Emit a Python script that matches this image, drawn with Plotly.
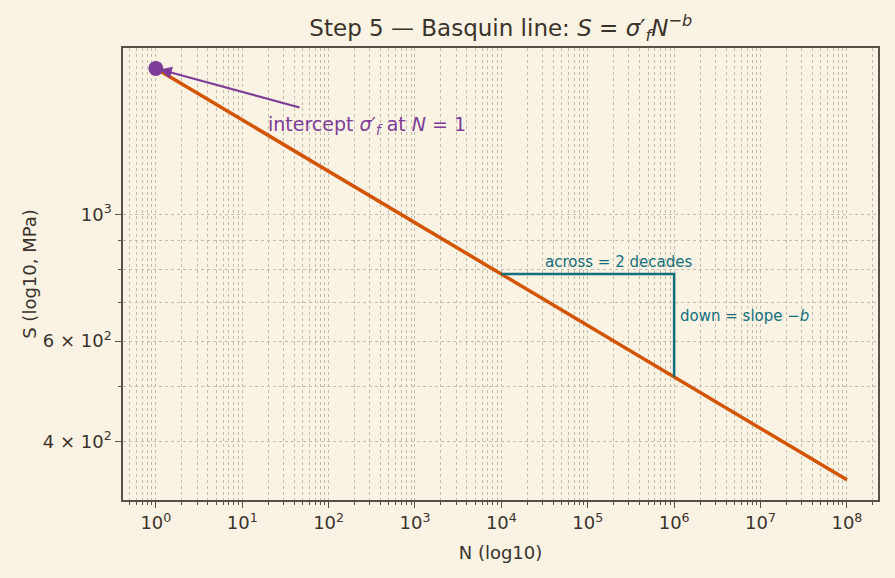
import math
import plotly.graph_objects as go

# ---- data ----
line_N = [1, 1e8]
line_S = [1800, 343]
intercept_N = [1]
intercept_S = [1800]
tri_N = [1e4, 1e6, 1e6]
tri_S = [786, 786, 519]

x_tick_vals = [10**k for k in range(0, 9)]
x_tick_text = [f"10<sup>{k}</sup>" for k in range(0, 9)]
y_tick_vals = [400, 600, 1000]
y_tick_text = ["4 × 10<sup>2</sup>", "6 × 10<sup>2</sup>", "10<sup>3</sup>"]
y_minor_vals = [300, 500, 700, 800, 900, 2000]
x_minor_vals = [m * 10**k for k in range(-1, 9) for m in range(2, 10)]

BG = "#FAF2E3"
TXT = "#3a332b"
AX = "#5a5046"
GRID = "#c4bcad"
ORANGE = "#D35400"
PURPLE = "#7D3C98"
TEAL = "#136F7B"
FONT = "DejaVu Sans"

fig = go.Figure()
fig.add_trace(go.Scatter(x=line_N, y=line_S, mode="lines",
                         line=dict(color=ORANGE, width=3.5), showlegend=False))
fig.add_trace(go.Scatter(x=tri_N, y=tri_S, mode="lines",
                         line=dict(color=TEAL, width=2.5), showlegend=False))
fig.add_trace(go.Scatter(x=intercept_N, y=intercept_S, mode="markers",
                         marker=dict(color=PURPLE, size=15), showlegend=False))

# arrow (tail near the label) and label
fig.add_annotation(x=math.log10(intercept_N[0]), y=math.log10(intercept_S[0]),
                   ax=math.log10(48), ay=math.log10(1535), axref="x", ayref="y",
                   xref="x", yref="y", text="",
                   showarrow=True, arrowhead=2, arrowsize=1.1, arrowwidth=2.2,
                   arrowcolor=PURPLE, standoff=4)
fig.add_annotation(x=math.log10(19), y=math.log10(1432), xref="x", yref="y",
                   text="intercept <i>σ</i>′<sub><i>f</i></sub> at <i>N</i> = 1",
                   font=dict(family=FONT, size=19, color=PURPLE),
                   showarrow=False, xanchor="left", yanchor="middle")
fig.add_annotation(x=math.log10(3e4), y=math.log10(826), xref="x", yref="y",
                   text="across = 2 decades", showarrow=False, xanchor="left",
                   yanchor="middle", font=dict(family=FONT, size=15, color=TEAL))
fig.add_annotation(x=math.log10(1.12e6), y=math.log10(663), xref="x", yref="y",
                   text="down = slope −<i>b</i>", showarrow=False, xanchor="left",
                   yanchor="middle", font=dict(family=FONT, size=15, color=TEAL))

fig.update_layout(
    width=895, height=578,
    margin=dict(l=123, r=17, t=48, b=78),
    paper_bgcolor=BG, plot_bgcolor=BG,
    font=dict(family=FONT, color=TXT),
    title=dict(text="Step 5 — Basquin line: <i>S</i> = <i>σ</i>′<sub><i>f</i></sub><i>N</i><sup>−<i>b</i></sup>",
               x=0.5595, xanchor="center", y=0.952, yanchor="middle",
               font=dict(family=FONT, size=23, color=TXT)),
)
fig.update_xaxes(
    type="log", range=[-0.38, 8.36],
    tickmode="array", tickvals=x_tick_vals, ticktext=x_tick_text,
    ticks="outside", ticklen=6, tickwidth=1.3, tickcolor=AX,
    tickfont=dict(family=FONT, size=18, color=TXT),
    showgrid=True, gridcolor=GRID, gridwidth=0.8, griddash="dot",
    showline=True, linecolor=AX, linewidth=1.5, mirror=True, zeroline=False,
    minor=dict(tickmode="array", tickvals=x_minor_vals, ticks="outside", ticklen=3.5,
               tickwidth=1, tickcolor=AX, showgrid=True, gridcolor=GRID,
               gridwidth=0.6, griddash="dot"),
    title=dict(text="N (log10)", font=dict(family=FONT, size=18, color=TXT), standoff=14),
)
fig.update_yaxes(
    type="log", range=[2.50, 3.291],
    tickmode="array", tickvals=y_tick_vals, ticktext=y_tick_text,
    ticks="outside", ticklen=6, tickwidth=1.3, tickcolor=AX,
    tickfont=dict(family=FONT, size=18, color=TXT),
    showgrid=True, gridcolor=GRID, gridwidth=0.8, griddash="dot",
    showline=True, linecolor=AX, linewidth=1.5, mirror=True, zeroline=False,
    minor=dict(tickmode="array", tickvals=y_minor_vals, ticks="outside", ticklen=3.5,
               tickwidth=1, tickcolor=AX, showgrid=True, gridcolor=GRID,
               gridwidth=0.6, griddash="dot"),
    title=dict(text="S (log10, MPa)", font=dict(family=FONT, size=18, color=TXT), standoff=1),
)
fig.write_html("out.html")
